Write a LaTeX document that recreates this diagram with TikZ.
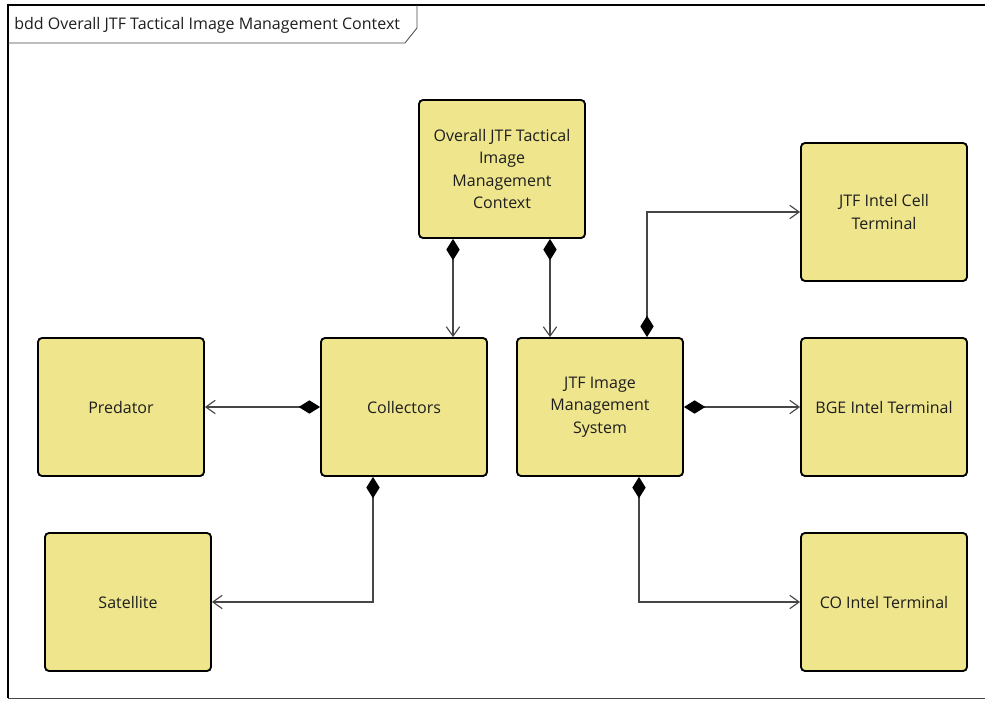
\documentclass[tikz,border=0pt]{standalone}
\usepackage{fontspec}
\setmainfont{Open Sans}
\usetikzlibrary{arrows.meta}
\usetikzlibrary{positioning}

\definecolor{blockfill}{RGB}{238,229,140}
\definecolor{linegray}{RGB}{70,70,70}
\definecolor{textgray}{RGB}{30,30,30}

\tikzset{
  block/.style={draw=black,line width=1.4pt,rounded corners=3pt,fill=blockfill,
    minimum width=124.5pt,minimum height=103.5pt,align=center,text=textgray,
    font=\fontsize{12}{16.8}\selectfont,inner sep=2pt},
  compose/.style={draw=linegray,line width=0.85pt,
    {Diamond[length=16pt,width=10pt,color=black]}-{Straight Barb[length=7pt,width=10pt]}},
}

\begin{document}
\begin{tikzpicture}[x=0.75pt,y=0.75pt,yscale=-1,xscale=1]
\useasboundingbox (0,0) rectangle (985,700);

%Frame
\draw [color=linegray,line width=0.6pt] (8,698) -- (992,698) ;
\draw [line width=1.3pt] (8,5) -- (992,5) ;
\draw [line width=2pt] (8,4) -- (8,698) ;
%Frame tab
\draw [color=linegray,line width=0.6pt] (8,43) -- (405,43) -- (417,28) -- (417,5) ;
% Text Node
\node (title) [anchor=west,inner sep=0pt,text=textgray,font=\fontsize{12}{14}\selectfont] at (14,25) {bdd Overall JTF Tactical Image Management Context};

%Blocks
\node (ctx) [block] at (502,169) {Overall JTF Tactical\\Image\\Management\\Context};
\node (cell) [block] at (884,212) {JTF Intel Cell\\Terminal};
\node (pred) [block] at (121,407) {Predator};
\node (coll) [block] at (404,407) {Collectors};
\node (ims) [block] at (600,407) {JTF Image\\Management\\System};
\node (bge) [block] at (884,407) {BGE Intel Terminal};
\node (sat) [block] at (128,602) {Satellite};
\node (co) [block] at (884,602) {CO Intel Terminal};

%Compositions
\draw [compose] (ctx.south -| 453,0) -- (coll.north -| 453,0) ;
\draw [compose] (ctx.south -| 550,0) -- (ims.north -| 550,0) ;
\draw [compose] (coll.west) -- (pred.east) ;
\draw [compose] (coll.south -| 373,0) |- (sat.east) ;
\draw [compose] (ims.north -| 647,0) |- (cell.west) ;
\draw [compose] (ims.east) -- (bge.west) ;
\draw [compose] (ims.south -| 639,0) |- (co.west) ;

\end{tikzpicture}
\end{document}
